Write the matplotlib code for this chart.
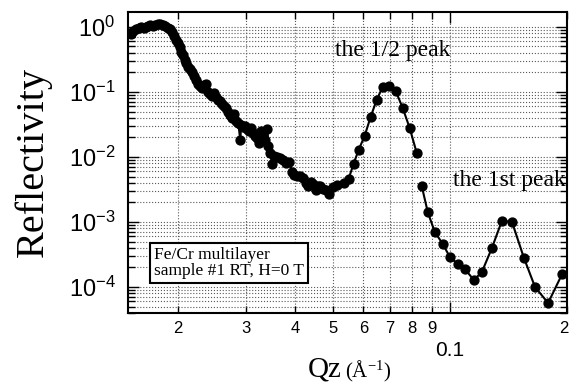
import math
import matplotlib
matplotlib.use("Agg")
import matplotlib.pyplot as plt
import matplotlib.transforms as mtransforms
from matplotlib.ticker import FixedLocator, LogLocator, NullFormatter, FuncFormatter

plt.rcParams['font.family'] = ['Liberation Sans', 'DejaVu Sans']
plt.rcParams['mathtext.fontset'] = 'custom'
plt.rcParams['mathtext.rm'] = 'Liberation Sans'
plt.rcParams['mathtext.it'] = 'Liberation Sans:italic'
SERIF = ['Liberation Serif', 'DejaVu Serif']

# measured reflectivity below the gap (critical edge + 1/2 peak)
q_low = [0.01515, 0.01533, 0.01561, 0.01589, 0.01607, 0.01636, 0.01656, 0.01676,
         0.01696, 0.01726, 0.01747, 0.01778, 0.01800, 0.01832, 0.01854, 0.01887,
         0.01910, 0.01933, 0.01956, 0.01979, 0.02003, 0.02027, 0.02039, 0.02063,
         0.02087, 0.02100, 0.02125, 0.02150, 0.02176, 0.02202, 0.02228, 0.02255,
         0.02282, 0.02309, 0.02337, 0.02364, 0.02393, 0.02421, 0.02450, 0.02480,
         0.02509, 0.02539, 0.02570, 0.02600, 0.02631, 0.02663, 0.02694, 0.02727,
         0.02759, 0.02792, 0.02825, 0.02859, 0.02893, 0.02910, 0.02945, 0.02980,
         0.03015, 0.03051, 0.03088, 0.03124, 0.03162, 0.03200, 0.03238, 0.03277,
         0.03316, 0.03356, 0.03396, 0.03416, 0.03457, 0.03498, 0.03540, 0.03603,
         0.03668, 0.03734, 0.03801, 0.03869, 0.03939, 0.03986, 0.04058, 0.04130,
         0.04204, 0.04279, 0.04331, 0.04409, 0.04462, 0.04541, 0.04596, 0.04651,
         0.04735, 0.04820, 0.04906, 0.05023, 0.05144, 0.05331, 0.05492, 0.05657,
         0.05828, 0.06039, 0.06258, 0.06485, 0.06720, 0.06963, 0.07258, 0.07566,
         0.07886, 0.08222]
r_low = [0.780, 0.868, 0.932, 0.965, 1.0, 0.965, 1.0, 1.036,
         1.073, 1.036, 1.073, 1.112, 1.112, 1.073, 1.036, 0.965,
         0.932, 0.838, 0.727, 0.631, 0.567, 0.492, 0.412, 0.371,
         0.311, 0.279, 0.242, 0.226, 0.203, 0.176, 0.153, 0.133,
         0.124, 0.115, 0.128, 0.133, 0.100, 0.0932, 0.0868, 0.0965,
         0.0838, 0.0753, 0.0727, 0.0654, 0.0609, 0.0567, 0.0492, 0.0443,
         0.0398, 0.0459, 0.0358, 0.0333, 0.0183, 0.0311, 0.0289, 0.0300,
         0.0270, 0.0251, 0.0279, 0.0234, 0.0210, 0.0196, 0.0164, 0.0251,
         0.0218, 0.0183, 0.0270, 0.0148, 0.0115, 0.00780, 0.0104, 0.0100,
         0.00965, 0.00899, 0.00809, 0.00838, 0.00588, 0.00528, 0.00510, 0.00510,
         0.00475, 0.00398, 0.00358, 0.00412, 0.00384, 0.00311, 0.00358, 0.00358,
         0.00322, 0.00311, 0.00270, 0.00346, 0.00371, 0.00398, 0.00459, 0.00780,
         0.0128, 0.0210, 0.0412, 0.0753, 0.119, 0.124, 0.104, 0.0567,
         0.0279, 0.0115]

# measured reflectivity above the gap (1st peak)
q_high = [0.08469, 0.08776, 0.09148, 0.09594, 0.1000, 0.1048, 0.1093, 0.1153,
          0.1209, 0.1283, 0.1361, 0.1445, 0.1551, 0.1656, 0.1789, 0.1944]
r_high = [0.00358, 0.00142, 0.000702, 0.000459, 0.000289, 0.000226, 0.000189, 0.000128,
          0.000170, 0.000398, 0.00104, 0.00100, 0.000279, 0.000100, 0.0000567, 0.000158]

x_minor_ticks = [0.02, 0.03, 0.04, 0.05, 0.06, 0.07, 0.08, 0.09, 0.2]
x_minor_labels = ['2', '3', '4', '5', '6', '7', '8', '9', '2']
y_ticks = [1e0, 1e-1, 1e-2, 1e-3, 1e-4]

fig = plt.figure(figsize=(5.7, 3.85), dpi=100)
ax = fig.add_axes([0.2246, 0.187, 0.770, 0.782])

for q, r in [(q_low, r_low), (q_high, r_high)]:
    ax.plot(q, r, color='black', lw=1.5, marker='o', ms=6.4, mfc='black', mec='black')

ax.set_xscale('log')
ax.set_yscale('log')
ax.set_xlim(0.01489, 0.2)
ax.set_ylim(3.98e-5, 1.70)

ax.xaxis.set_major_locator(FixedLocator([0.1]))
ax.xaxis.set_major_formatter(FuncFormatter(lambda v, p: '0.1'))
ax.xaxis.set_minor_locator(FixedLocator(x_minor_ticks))
ax.xaxis.set_minor_formatter(FuncFormatter(
    lambda v, p: x_minor_labels[x_minor_ticks.index(min(x_minor_ticks, key=lambda t: abs(t - v)))]))

ax.yaxis.set_major_locator(FixedLocator(y_ticks))
ax.yaxis.set_major_formatter(FuncFormatter(lambda v, p: r'$\mathregular{10^{%d}}$' % round(math.log10(v))))
ax.yaxis.set_minor_locator(LogLocator(base=10, subs=range(2, 10), numticks=20))
ax.yaxis.set_minor_formatter(NullFormatter())

ax.tick_params(which='both', direction='in', top=True, right=True, width=1.0)
ax.tick_params(which='major', length=8)
ax.tick_params(which='minor', length=5)
ax.tick_params(axis='x', which='minor', labelsize=12, pad=6)
ax.tick_params(axis='x', which='major', labelsize=15, pad=20)
ax.tick_params(axis='y', which='major', labelsize=17, pad=9)

ax.grid(which='both', linestyle=':', color='0.35', linewidth=0.8)
for s in ax.spines.values():
    s.set_linewidth(1.5)

ax.set_ylabel('Reflectivity', family=SERIF, fontsize=29, labelpad=12)
fig.text(0.600, 0.021, 'Qz', family=SERIF, fontsize=21, ha='right', va='baseline')
fig.text(0.606, 0.021, r'(Å$^{\mathregular{-1}}$)', family=SERIF, fontsize=15, ha='left', va='baseline')

ax.text(335 / 570, 1 - 56 / 385, 'the 1/2 peak', transform=fig.transFigure,
        family=SERIF, fontsize=17, va='baseline')
ax.text(566 / 570, 1 - 186 / 385, 'the 1st peak', transform=fig.transFigure,
        family=SERIF, fontsize=17, va='baseline', ha='right')
ax.text(154 / 570, 1 - 263 / 385, 'Fe/Cr multilayer\nsample #1 RT, H=0 T', transform=fig.transFigure,
        family=SERIF, fontsize=12.5, va='center', ha='left', linespacing=1.0,
        bbox=dict(boxstyle='square,pad=0.25', fc='white', ec='black', lw=1.5))

# keep the last "2" label inside the figure edge
fig.canvas.draw()
last = ax.xaxis.get_minorticklabels()[-1]
last.set_transform(last.get_transform() + mtransforms.ScaledTranslation(-3 / 100, 0, fig.dpi_scale_trans))

fig.savefig('out.png', dpi=100)
